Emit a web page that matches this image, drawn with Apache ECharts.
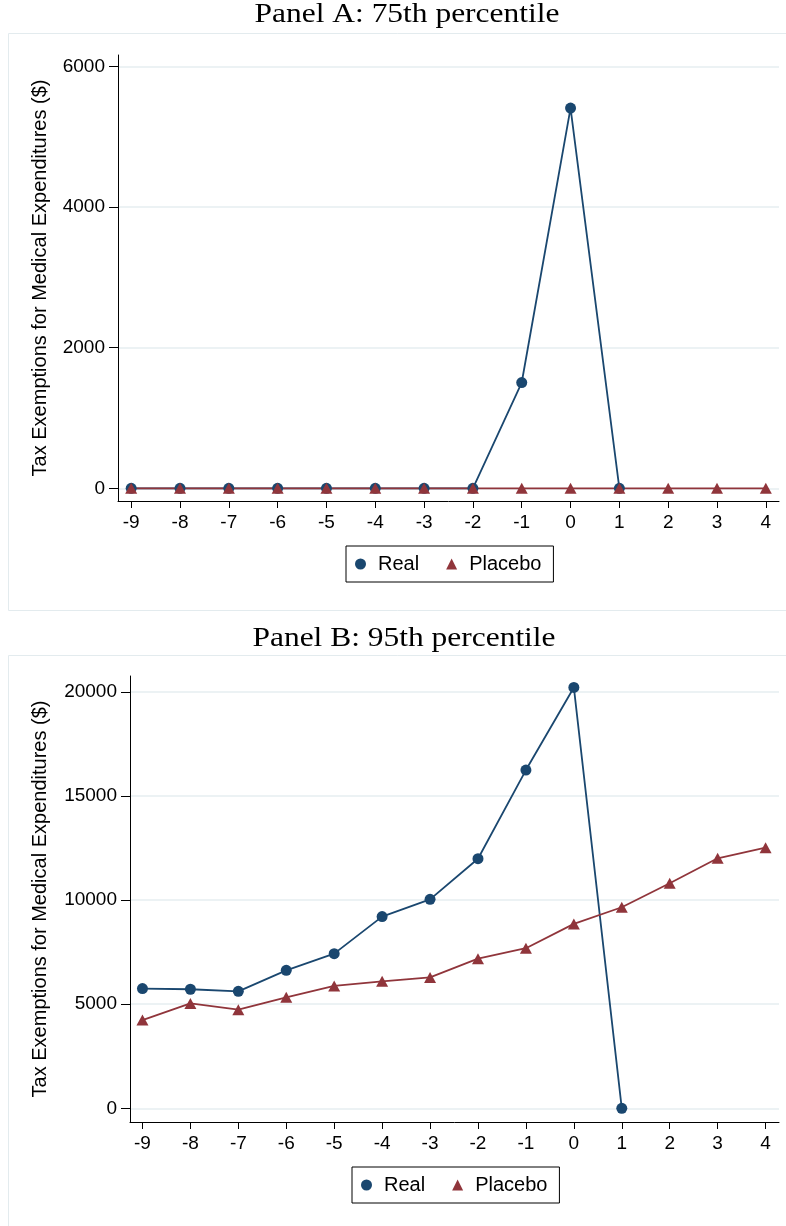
<!DOCTYPE html>
<html>
<head>
<meta charset="utf-8">
<script src="https://cdn.jsdelivr.net/npm/echarts@6/dist/echarts.min.js"></script>
<style>
  html, body { margin: 0; padding: 0; background: #fff; }
  #chart { width: 786px; height: 1226px; }
</style>
</head>
<body>
<div id="chart"></div>
<script>
// Event time (years relative to the event)
const yearTicks = [-9, -8, -7, -6, -5, -4, -3, -2, -1, 0, 1, 2, 3, 4];
const realYears = [-9, -8, -7, -6, -5, -4, -3, -2, -1, 0, 1];

// Panel A: 75th percentile
const realA    = [0, 0, 0, 0, 0, 0, 0, 0, 1505, 5410, 0];
const placeboA = [0, 0, 0, 0, 0, 0, 0, 0, 0, 0, 0, 0, 0, 0];

// Panel B: 95th percentile
const realB    = [5750, 5720, 5620, 6630, 7430, 9210, 10040, 11990, 16250, 20220, 0];
const placeboB = [4240, 5040, 4740, 5330, 5880, 6100, 6290, 7190, 7690, 8860, 9660, 10810, 12010, 12520];

// Axis tick labels
const yTicksA = [0, 2000, 4000, 6000];
const yTicksB = [0, 5000, 10000, 15000, 20000];

const panelTitles = ['Panel A: 75th percentile', 'Panel B: 95th percentile'];
const seriesNames = ['Real', 'Placebo'];
const yTitle = 'Tax Exemptions for Medical Expenditures ($)';

const SANS = '"Liberation Sans", Arial, Helvetica, sans-serif';
const NAVY = '#1a476f';
const MAROON = '#90353b';
const GRID_LINE = '#e6eef1';

function pairs(xs, ys) { return ys.map((v, i) => [xs[i], v]); }
const plain = v => String(v);

function xAxisFor(gridIndex, min, max) {
  return {
    type: 'value', gridIndex, min, max, position: 'bottom',
    axisLine: { show: true, onZero: false, lineStyle: { color: '#000', width: 1 } },
    axisTick: { show: true, length: 7, customValues: yearTicks, lineStyle: { color: '#000', width: 1 } },
    axisLabel: { customValues: yearTicks, formatter: plain, margin: 12, color: '#000', fontSize: 19, fontFamily: SANS },
    splitLine: { show: false }
  };
}

function yAxisFor(gridIndex, min, max, ticks, nameGap) {
  return {
    type: 'value', gridIndex, min, max, position: 'left',
    name: yTitle, nameLocation: 'middle', nameGap, nameRotate: 90,
    nameTextStyle: { color: '#000', fontSize: 20, fontFamily: SANS },
    axisLine: { show: true, onZero: false, lineStyle: { color: '#000', width: 1 } },
    axisTick: { show: true, length: 9, customValues: ticks, lineStyle: { color: '#000', width: 1 } },
    axisLabel: { customValues: ticks, formatter: plain, margin: 13, color: '#000', fontSize: 19, fontFamily: SANS },
    splitLine: { show: true, lineStyle: { color: GRID_LINE, width: 1.5 } }
  };
}

function lineSeries(name, gridIndex, data, color, symbol, size) {
  return {
    type: 'line', name, xAxisIndex: gridIndex, yAxisIndex: gridIndex,
    data, symbol, symbolSize: size, showAllSymbol: true,
    lineStyle: { color, width: 1.8 },
    itemStyle: { color, borderWidth: 0 },
    emphasis: { disabled: true }
  };
}

function legendFor(left, top) {
  return {
    left, top, orient: 'horizontal', selectedMode: false,
    padding: [8, 12, 8, 9], itemGap: 27, itemWidth: 11, itemHeight: 11,
    borderColor: '#000', borderWidth: 1, backgroundColor: '#fff',
    textStyle: { color: '#000', fontSize: 20, fontFamily: SANS, padding: [0, 0, 0, 7] },
    data: [{ name: seriesNames[0], icon: 'circle' }, { name: seriesNames[1], icon: 'triangle' }]
  };
}

function panelTitle(text, cx, cy) {
  return {
    type: 'text', x: cx, y: cy, scaleX: 1.165, silent: true,
    style: { text, x: 0, y: 0, align: 'center', verticalAlign: 'middle',
             fontSize: 27, fontFamily: '"Liberation Serif", "Times New Roman", serif', fill: '#000' }
  };
}

function panelFrame(y, h) {
  return {
    type: 'rect', silent: true, z: -10,
    shape: { x: 8.5, y: y + 0.5, width: 790, height: h },
    style: { fill: 'none', stroke: '#e3ebee', lineWidth: 1 }
  };
}

const chart = echarts.init(document.getElementById('chart'), null, { renderer: 'canvas' });

chart.setOption({
  animation: false,
  backgroundColor: '#fff',
  grid: [
    { left: 118, top: 55, right: 7, height: 446 },
    { left: 130, top: 676, right: 7, height: 446 }
  ],
  xAxis: [
    xAxisFor(0, -9.27, 4.27),
    xAxisFor(1, -9.26, 4.28)
  ],
  yAxis: [
    yAxisFor(0, -181, 6166, yTicksA, 68),
    yAxisFor(1, -658, 20769, yTicksB, 80)
  ],
  legend: [legendFor(346, 546), legendFor(352, 1167)],
  series: [
    lineSeries(seriesNames[0], 0, pairs(realYears, realA), NAVY, 'circle', 11),
    lineSeries(seriesNames[1], 0, pairs(yearTicks, placeboA), MAROON, 'triangle', [12, 11]),
    lineSeries(seriesNames[0], 1, pairs(realYears, realB), NAVY, 'circle', 11),
    lineSeries(seriesNames[1], 1, pairs(yearTicks, placeboB), MAROON, 'triangle', [12, 11])
  ],
  graphic: [
    panelFrame(33, 577),
    panelFrame(655, 600),
    panelTitle(panelTitles[0], 407, 15),
    panelTitle(panelTitles[1], 404, 639)
  ]
});
</script>
</body>
</html>
